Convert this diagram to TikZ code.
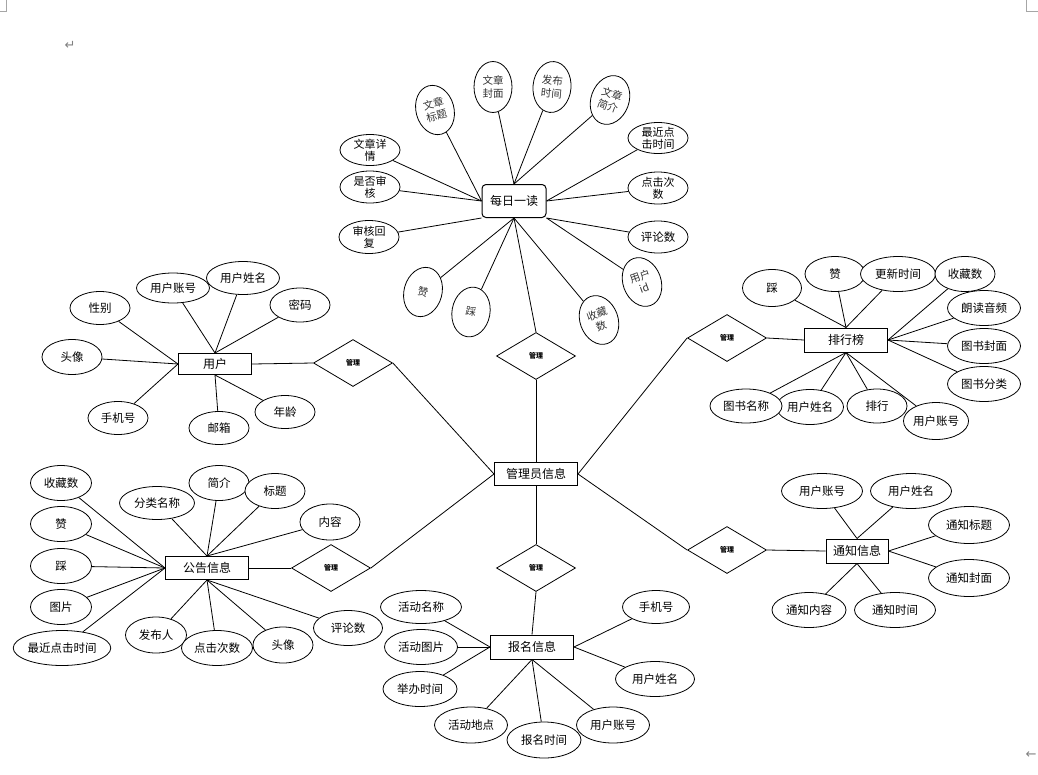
\documentclass[tikz,border=0pt]{standalone}
\usepackage{fontspec}
\setmainfont{Noto Sans CJK SC}
\newfontfamily\dvfont{DejaVu Sans}
\usetikzlibrary{shapes.geometric}
\pgfdeclarelayer{bg}
\pgfsetlayers{bg,main}
\begin{document}
\begin{tikzpicture}[x=1pt,y=-1pt,
  entity/.style={draw, line width=1pt, rectangle, inner sep=1pt, fill=white, font=\fontsize{12}{14}\selectfont},
  attr/.style={draw, ellipse, inner sep=0pt, line width=0.8pt, fill=white, font=\fontsize{11.5}{13}\selectfont, minimum width=60, minimum height=34},
  vattr/.style={draw, ellipse, inner sep=0pt, line width=0.8pt, fill=white, align=center, text=black!80, font=\fontsize{10.5}{12.5}\selectfont, minimum width=38, minimum height=50},
  hattr/.style={draw, ellipse, inner sep=-1pt, line width=0.8pt, fill=white, align=center, font=\fontsize{11}{12}\selectfont, minimum width=60, minimum height=32},
  rel/.style={draw, diamond, inner sep=0pt, line width=0.8pt, fill=white, minimum width=79, minimum height=47, font=\fontsize{7}{8}\selectfont\bfseries},
  link/.style={line width=0.8pt},
  pagemark/.style={draw=gray!70, line width=0.8pt}]
\useasboundingbox (0,0) rectangle (1038,774);

% page marks
\draw[pagemark] (0,11) -- (6,11) -- (6,0);
\draw[pagemark] (1026,0) -- (1026,11) -- (1038,11);
\node[text=gray, font=\dvfont\fontsize{13}{14}\selectfont, inner sep=0pt] (ret1) at (70,45) {↵};
\node[text=gray, font=\dvfont\fontsize{13}{14}\selectfont, inner sep=0pt] (ret2) at (1031,755) {←};

% entities
\node[entity, minimum width=83, minimum height=23] (admin) at (536,474) {管理员信息};
\node[entity, rounded corners=4pt, minimum width=64, minimum height=33] (mr) at (514,201) {每日一读};
\node[entity, minimum width=73, minimum height=21] (user) at (215,364) {用户};
\node[entity, minimum width=83, minimum height=24] (rank) at (846,340) {排行榜};
\node[entity, minimum width=83, minimum height=23] (notice) at (207,568) {公告信息};
\node[entity, minimum width=83, minimum height=24] (signup) at (532,647) {报名信息};
\node[entity, minimum width=62, minimum height=24] (inform) at (857,551) {通知信息};

% relationships
\node[rel] (r1) at (353,363) {管理};
\node[rel] (r2) at (536,356) {管理};
\node[rel] (r3) at (727,338) {管理};
\node[rel] (r4) at (331,568) {管理};
\node[rel] (r5) at (536,568) {管理};
\node[rel] (r6) at (727,550) {管理};

% 每日一读 attributes
\node[vattr, rotate=15] (m1) at (435,110) {文章\\标题};
\node[vattr, minimum height=51] (m2) at (493,87) {文章\\封面};
\node[vattr, rotate=-5, minimum height=51] (m3) at (552,87) {发布\\时间};
\node[vattr, rotate=-20] (m4) at (610,100) {文章\\简介};
\node[hattr, minimum height=31] (m5) at (658,138) {最近点\\击时间};
\node[hattr] (m6) at (658,188) {点击次\\数};
\node[hattr, font=\fontsize{11.5}{13}\selectfont] (m7) at (658,237) {评论数};
\node[vattr, rotate=20] (m8) at (642,282) {用户\\id};
\node[vattr, rotate=20] (m9) at (599,320) {收藏\\数};
\node[vattr, rotate=-10] (m10) at (471,312) {踩};
\node[vattr, rotate=-15] (m11) at (423,292) {赞};
\node[hattr, minimum height=31] (m12) at (370,150) {文章详\\情};
\node[hattr] (m13) at (370,187) {是否审\\核};
\node[hattr, minimum height=33] (m14) at (369,237) {审核回\\复};

% 用户 attributes
\node[attr, minimum height=33] (u1) at (100,308) {性别};
\node[attr, minimum width=73, minimum height=30] (u2) at (173,288) {用户账号};
\node[attr, minimum width=73, minimum height=33] (u3) at (243,278) {用户姓名};
\node[attr] (u4) at (300,305) {密码};
\node[attr, minimum height=35] (u5) at (72,357) {头像};
\node[attr, minimum height=33] (u6) at (118,418) {手机号};
\node[attr, minimum height=33] (u7) at (219,428) {邮箱};
\node[attr, minimum height=33] (u8) at (285,412) {年龄};

% 排行榜 attributes
\node[attr, minimum width=59, minimum height=37] (k1) at (772,288) {踩};
\node[attr, minimum height=35] (k2) at (835,274) {赞};
\node[attr, minimum width=75, minimum height=35] (k3) at (898,274) {更新时间};
\node[attr, minimum height=35] (k4) at (965,274) {收藏数};
\node[attr, minimum width=73, minimum height=35] (k5) at (984,308) {朗读音频};
\node[attr, minimum width=73, minimum height=35] (k6) at (984,346) {图书封面};
\node[attr, minimum width=73, minimum height=35] (k7) at (984,384) {图书分类};
\node[attr, minimum width=67, minimum height=35] (k9) at (810,407) {用户姓名};
\node[attr, minimum width=72, minimum height=34] (k8) at (746,406) {图书名称};
\node[attr, minimum width=60, minimum height=34] (k10) at (877,406) {排行};
\node[attr, minimum width=65, minimum height=37] (k11) at (936,421) {用户账号};

% 公告信息 attributes
\node[attr, minimum width=61, minimum height=35] (n1) at (61,483) {收藏数};
\node[attr, minimum width=61, minimum height=35] (n2) at (61,524) {赞};
\node[attr, minimum width=61, minimum height=35] (n3) at (61,566) {踩};
\node[attr, minimum width=61, minimum height=35] (n4) at (61,607) {图片};
\node[attr, minimum width=97, minimum height=35] (n5) at (62,648) {最近点击时间};
\node[attr, minimum width=75, minimum height=33] (n6) at (157,503) {分类名称};
\node[attr, minimum height=35] (n7) at (219,483) {简介};
\node[attr, minimum height=35] (n8) at (275,491) {标题};
\node[attr, minimum height=36] (n9) at (330,522) {内容};
\node[attr, minimum width=61, minimum height=36] (n10) at (156,635) {发布人};
\node[attr, minimum width=71, minimum height=35] (n11) at (217,648) {点击次数};
\node[attr, minimum height=36] (n12) at (283,645) {头像};
\node[attr, minimum width=69, minimum height=35] (n13) at (348,628) {评论数};

% 报名信息 attributes
\node[attr, minimum width=81, minimum height=33] (s1) at (421,607) {活动名称};
\node[attr, minimum width=73, minimum height=35] (s2) at (421,647) {活动图片};
\node[attr, minimum width=74, minimum height=35] (s3) at (420,689) {举办时间};
\node[attr, minimum width=73, minimum height=36] (s4) at (471,725) {活动地点};
\node[attr, minimum width=74, minimum height=36] (s5) at (544,740) {报名时间};
\node[attr, minimum width=73, minimum height=36] (s6) at (613,725) {用户账号};
\node[attr, minimum width=79, minimum height=35] (s7) at (655,679) {用户姓名};
\node[attr, minimum width=67, minimum height=33] (s8) at (656,607) {手机号};

% 通知信息 attributes
\node[attr, minimum width=81, minimum height=35] (t1) at (822,491) {用户账号};
\node[attr, minimum width=81, minimum height=35] (t2) at (911,491) {用户姓名};
\node[attr, minimum width=81, minimum height=37] (t3) at (969,525) {通知标题};
\node[attr, minimum width=81, minimum height=37] (t4) at (969,578) {通知封面};
\node[attr, minimum width=74, minimum height=35] (t5) at (809,610) {通知内容};
\node[attr, minimum width=81, minimum height=35] (t6) at (895,610) {通知时间};

% connectors (behind the shapes)
\begin{pgfonlayer}{bg}
\draw[link] (admin.west) -- (r1.east);  \draw[link] (r1.west) -- (user.east);
\draw[link] (admin.north) -- (r2.south); \draw[link] (r2.north) -- (mr.south);
\draw[link] (admin.east) -- (r3.west);  \draw[link] (r3.east) -- (rank.west);
\draw[link] (admin.west) -- (r4.east);  \draw[link] (r4.west) -- (notice.east);
\draw[link] (admin.south) -- (r5.north); \draw[link] (r5.south) -- (signup.north);
\draw[link] (admin.east) -- (r6.west);  \draw[link] (r6.east) -- (inform.west);

\foreach \a in {m1,m12,m13} \draw[link] (\a) -- (mr.west);
\foreach \a in {m2,m3,m4} \draw[link] (\a) -- (mr.north);
\foreach \a in {m5,m6} \draw[link] (\a) -- (mr.east);
\foreach \a in {m7,m8} \draw[link] (\a) -- (mr.south east);
\foreach \a in {m9,m10,m11} \draw[link] (\a) -- (mr.south);
\draw[link] (m14) -- (mr.south west);

\foreach \a in {u1,u5,u6} \draw[link] (\a) -- (user.west);
\foreach \a in {u2,u3,u4} \draw[link] (\a) -- (user.north);
\foreach \a in {u7,u8} \draw[link] (\a) -- (user.south);

\foreach \a in {k1,k2,k3} \draw[link] (\a) -- (rank.north);
\foreach \a in {k4,k5,k6,k7} \draw[link] (\a) -- (rank.east);
\foreach \a in {k8,k9,k10,k11} \draw[link] (\a) -- (rank.south);

\foreach \a in {n1,n2,n3,n4,n5} \draw[link] (\a) -- (notice.west);
\foreach \a in {n6,n7,n8,n9} \draw[link] (\a) -- (notice.north);
\foreach \a in {n10,n11,n12,n13} \draw[link] (\a) -- (notice.south);

\foreach \a in {s1,s2,s3} \draw[link] (\a) -- (signup.west);
\foreach \a in {s4,s5,s6} \draw[link] (\a) -- (signup.south);
\foreach \a in {s7,s8} \draw[link] (\a) -- (signup.east);

\foreach \a in {t1,t2} \draw[link] (\a) -- (inform.north);
\foreach \a in {t3,t4} \draw[link] (\a) -- (inform.east);
\foreach \a in {t5,t6} \draw[link] (\a) -- (inform.south);
\end{pgfonlayer}
\end{tikzpicture}
\end{document}
